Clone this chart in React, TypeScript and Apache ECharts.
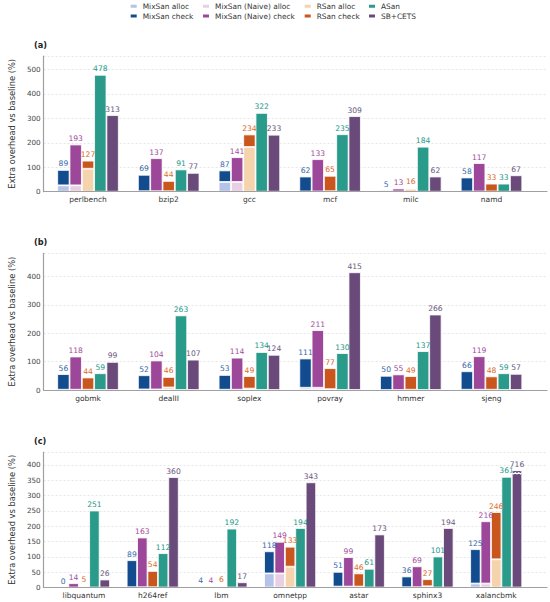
import React, { useEffect, useRef } from "react";
import * as echarts from "echarts";

// ---------- data ----------
const seriesNames = [
  "MixSan alloc",
  "MixSan check",
  "MixSan (Naive) alloc",
  "MixSan (Naive) check",
  "RSan alloc",
  "RSan check",
  "ASan",
  "SB+CETS",
];

// panel (a)
const cats1 = ["perlbench", "bzip2", "gcc", "mcf", "milc", "namd"];
const mixTotal1 = [89, 69, 87, 62, 5, 58];
const mixAlloc1 = [26, 2, 40, 1, 1, 1];
const naiveTotal1 = [193, 137, 141, 133, 13, 117];
const naiveAlloc1 = [26, 2, 40, 1, 1, 1];
const rsanTotal1 = [127, 44, 234, 65, 16, 33];
const rsanAlloc1 = [94, 2, 183, 2, 12, 1];
const asan1 = [478, 91, 322, 235, 184, 33];
const sb1 = [313, 77, 233, 309, 62, 67];

// panel (b)
const cats2 = ["gobmk", "dealII", "soplex", "povray", "hmmer", "sjeng"];
const mixTotal2 = [56, 52, 53, 111, 50, 66];
const mixAlloc2 = [1, 2, 1, 8, 0, 1];
const naiveTotal2 = [118, 104, 114, 211, 55, 119];
const naiveAlloc2 = [1, 2, 1, 8, 0, 1];
const rsanTotal2 = [44, 46, 49, 77, 49, 48];
const rsanAlloc2 = [1, 9, 5, 3, 1, 1];
const asan2 = [59, 263, 134, 130, 137, 59];
const sb2 = [99, 107, 124, 415, 266, 57];

// panel (c)
const cats3 = ["libquantum", "h264ref", "lbm", "omnetpp", "astar", "sphinx3", "xalancbmk"];
const mixTotal3 = [0, 89, 4, 118, 51, 36, 125];
const mixAlloc3 = [0, 1, 1, 46, 3, 1, 13];
const naiveTotal3 = [14, 163, 4, 149, 99, 69, 216];
const naiveAlloc3 = [0, 1, 1, 46, 3, 1, 13];
const rsanTotal3 = [5, 54, 6, 133, 46, 27, 246];
const rsanAlloc3 = [2, 1, 5, 68, 3, 4, 92];
const asan3 = [251, 112, 192, 194, 61, 101, 361];
const sb3 = [26, 360, 17, 343, 173, 194, 716];

const yMaxes = [555, 482, 442];
const yIntervals = [100, 100, 50];
const barCaps = [Infinity, Infinity, 383];
const panelTitles = ["(a)", "(b)", "(c)"];

// ---------- styles ----------
const FONT = "DejaVu Sans";
const C = {
  mixAlloc: "#b6c3e8",
  mixCheck: "#124c8f",
  naiveAlloc: "#e8cfe4",
  naiveCheck: "#9c4799",
  rsanAlloc: "#f4d3ad",
  rsanCheck: "#c9561d",
  asan: "#2a9a8a",
  sb: "#6a4a7a",
};
const LC = {
  mix: "#3568a8",
  naive: "#a24c9d",
  rsan: "#d96a28",
  asan: "#23978a",
  sb: "#6a5680",
};

const SPINE_X = 33;
const SPINE_RIGHT = 547;

const layout = [
  { top: 56, height: 135.7, left: 47.65, width: 484.2, barW: 12.3 },
  { top: 253.3, height: 136.7, left: 47.65, width: 484.2, barW: 12.3 },
  { top: 452, height: 135.5, left: 49.65, width: 480.9, barW: 10.4 },
];

const panels = [
  { cats: cats1, mixTotal: mixTotal1, mixAlloc: mixAlloc1, naiveTotal: naiveTotal1, naiveAlloc: naiveAlloc1, rsanTotal: rsanTotal1, rsanAlloc: rsanAlloc1, asan: asan1, sb: sb1 },
  { cats: cats2, mixTotal: mixTotal2, mixAlloc: mixAlloc2, naiveTotal: naiveTotal2, naiveAlloc: naiveAlloc2, rsanTotal: rsanTotal2, rsanAlloc: rsanAlloc2, asan: asan2, sb: sb2 },
  { cats: cats3, mixTotal: mixTotal3, mixAlloc: mixAlloc3, naiveTotal: naiveTotal3, naiveAlloc: naiveAlloc3, rsanTotal: rsanTotal3, rsanAlloc: rsanAlloc3, asan: asan3, sb: sb3 },
];

function valueLabel(color: string, totals: number[]) {
  return {
    show: true,
    position: "top",
    distance: 2,
    color,
    fontFamily: FONT,
    fontSize: 7.6,
    formatter: (p: any) => String(totals[p.dataIndex]),
  };
}

function buildOption() {
  const grid: any[] = [];
  const xAxis: any[] = [];
  const yAxis: any[] = [];
  const series: any[] = [];
  const title: any[] = [];
  const n = panels.length;

  // bar grids (0..n-1)
  panels.forEach((p, i) => {
    const L = layout[i];
    grid.push({ left: L.left, top: L.top, width: L.width, height: L.height, containLabel: false });
    xAxis.push({
      type: "category",
      gridIndex: i,
      data: p.cats,
      axisLine: { show: false },
      axisTick: { show: false },
      axisLabel: { color: "#333", fontFamily: FONT, fontSize: 7.5, margin: 4 },
      z: 3,
    });
    yAxis.push({
      type: "value",
      gridIndex: i,
      min: 0,
      max: yMaxes[i],
      interval: yIntervals[i],
      show: false,
      splitLine: { show: false },
    });
  });

  // background grids (n..2n-1): full-width spines and dashed grid lines
  panels.forEach((p, i) => {
    const L = layout[i];
    grid.push({
      left: SPINE_X,
      top: L.top,
      width: SPINE_RIGHT - SPINE_X,
      height: L.height,
      containLabel: false,
    });
    xAxis.push({
      type: "value",
      gridIndex: n + i,
      min: 0,
      max: 1,
      axisLine: { show: true, onZero: false, lineStyle: { color: "#a0a0a0", width: 1.2 } },
      axisTick: { show: false },
      axisLabel: { show: false },
      splitLine: { show: false },
      z: 4,
    });
    yAxis.push({
      type: "value",
      gridIndex: n + i,
      min: 0,
      max: yMaxes[i],
      interval: yIntervals[i],
      name: "Extra overhead vs baseline (%)",
      nameLocation: "middle",
      nameGap: 21,
      nameTextStyle: { color: "#333", fontFamily: FONT, fontSize: 8.3 },
      axisLine: { show: true, lineStyle: { color: "#a0a0a0", width: 1.2 } },
      axisTick: { show: false },
      axisLabel: {
        color: "#444",
        fontFamily: FONT,
        fontSize: 7.2,
        margin: 3,
        formatter: (v: number) => (v > yMaxes[i] - 1 ? "" : String(v)),
      },
      splitLine: {
        show: true,
        lineStyle: { color: "#e0e0e0", type: [2, 2], width: 0.8 },
      },
      z: 1,
    });
    title.push({
      text: panelTitles[i],
      left: 34,
      top: L.top - 15,
      textStyle: { fontFamily: FONT, fontSize: 8.2, fontWeight: "bold", color: "#222" },
      padding: 0,
    });
  });

  panels.forEach((p, i) => {
    const L = layout[i];
    const common = {
      type: "bar",
      xAxisIndex: i,
      yAxisIndex: i,
      barWidth: L.barW,
      barGap: "0%",
      z: 3,
    };
    const border = { borderColor: "#ffffff", borderWidth: 0.8 };
    const checkOf = (tot: number[], al: number[]) => tot.map((t, k) => t - al[k]);

    series.push({ ...common, name: seriesNames[0], stack: "mix" + i, data: p.mixAlloc, itemStyle: { color: C.mixAlloc, ...border } });
    series.push({
      ...common,
      name: seriesNames[1],
      stack: "mix" + i,
      data: checkOf(p.mixTotal, p.mixAlloc),
      itemStyle: { color: C.mixCheck, ...border },
      label: valueLabel(LC.mix, p.mixTotal),
    });
    series.push({ ...common, name: seriesNames[2], stack: "naive" + i, data: p.naiveAlloc, itemStyle: { color: C.naiveAlloc, ...border } });
    series.push({
      ...common,
      name: seriesNames[3],
      stack: "naive" + i,
      data: checkOf(p.naiveTotal, p.naiveAlloc),
      itemStyle: { color: C.naiveCheck, ...border },
      label: valueLabel(LC.naive, p.naiveTotal),
    });
    series.push({ ...common, name: seriesNames[4], stack: "rsan" + i, data: p.rsanAlloc, itemStyle: { color: C.rsanAlloc, ...border } });
    series.push({
      ...common,
      name: seriesNames[5],
      stack: "rsan" + i,
      data: checkOf(p.rsanTotal, p.rsanAlloc),
      itemStyle: { color: C.rsanCheck, ...border },
      label: valueLabel(LC.rsan, p.rsanTotal),
    });
    series.push({
      ...common,
      name: seriesNames[6],
      data: p.asan,
      itemStyle: { color: C.asan, ...border },
      label: valueLabel(LC.asan, p.asan),
    });
    const cap = barCaps[i];
    const breaks = p.sb
      .map((v, k) => (v > cap ? { coord: [p.cats[k], cap - 5] } : null))
      .filter((d) => d !== null);
    series.push({
      ...common,
      name: seriesNames[7],
      data: p.sb.map((v) => Math.min(v, cap)),
      itemStyle: { color: C.sb, ...border },
      label: valueLabel(LC.sb, p.sb),
      markPoint: breaks.length
        ? {
            symbol:
              "path://M0,0 L2,2 L4,0 L6,2 L8,0 L10,2 L12,0 M0,4 L2,6 L4,4 L6,6 L8,4 L10,6 L12,4",
            symbolSize: [L.barW, 5],
            symbolKeepAspect: false,
            itemStyle: { color: "rgba(0,0,0,0)", borderColor: "#ffffff", borderWidth: 0.8 },
            label: { show: false },
            data: breaks,
            silent: true,
          }
        : undefined,
    });
  });

  const legendCols = [
    { left: 128.7, names: [seriesNames[0], seriesNames[1]] },
    { left: 201, names: [seriesNames[2], seriesNames[3]] },
    { left: 302.7, names: [seriesNames[4], seriesNames[5]] },
    { left: 367, names: [seriesNames[6], seriesNames[7]] },
  ];
  const legend = legendCols.map((c) => ({
    orient: "vertical",
    left: c.left,
    top: 1.8,
    padding: 0,
    itemGap: 0.7,
    itemWidth: 8,
    itemHeight: 5,
    icon: "rect",
    selectedMode: false,
    data: c.names,
    textStyle: { fontFamily: FONT, fontSize: 7.4, color: "#333", lineHeight: 9 },
  }));

  return {
    animation: false,
    backgroundColor: "#ffffff",
    textStyle: { fontFamily: FONT },
    title,
    legend,
    grid,
    xAxis,
    yAxis,
    series,
  };
}

export default function App() {
  const ref = useRef<HTMLDivElement>(null);
  useEffect(() => {
    document.body.style.margin = "0";
    if (!ref.current) return;
    const chart = echarts.init(ref.current, undefined, { renderer: "svg" });
    chart.setOption(buildOption() as any);
    return () => {
      chart.dispose();
    };
  }, []);
  return <div ref={ref} style={{ width: 550, height: 602 }} />;
}
